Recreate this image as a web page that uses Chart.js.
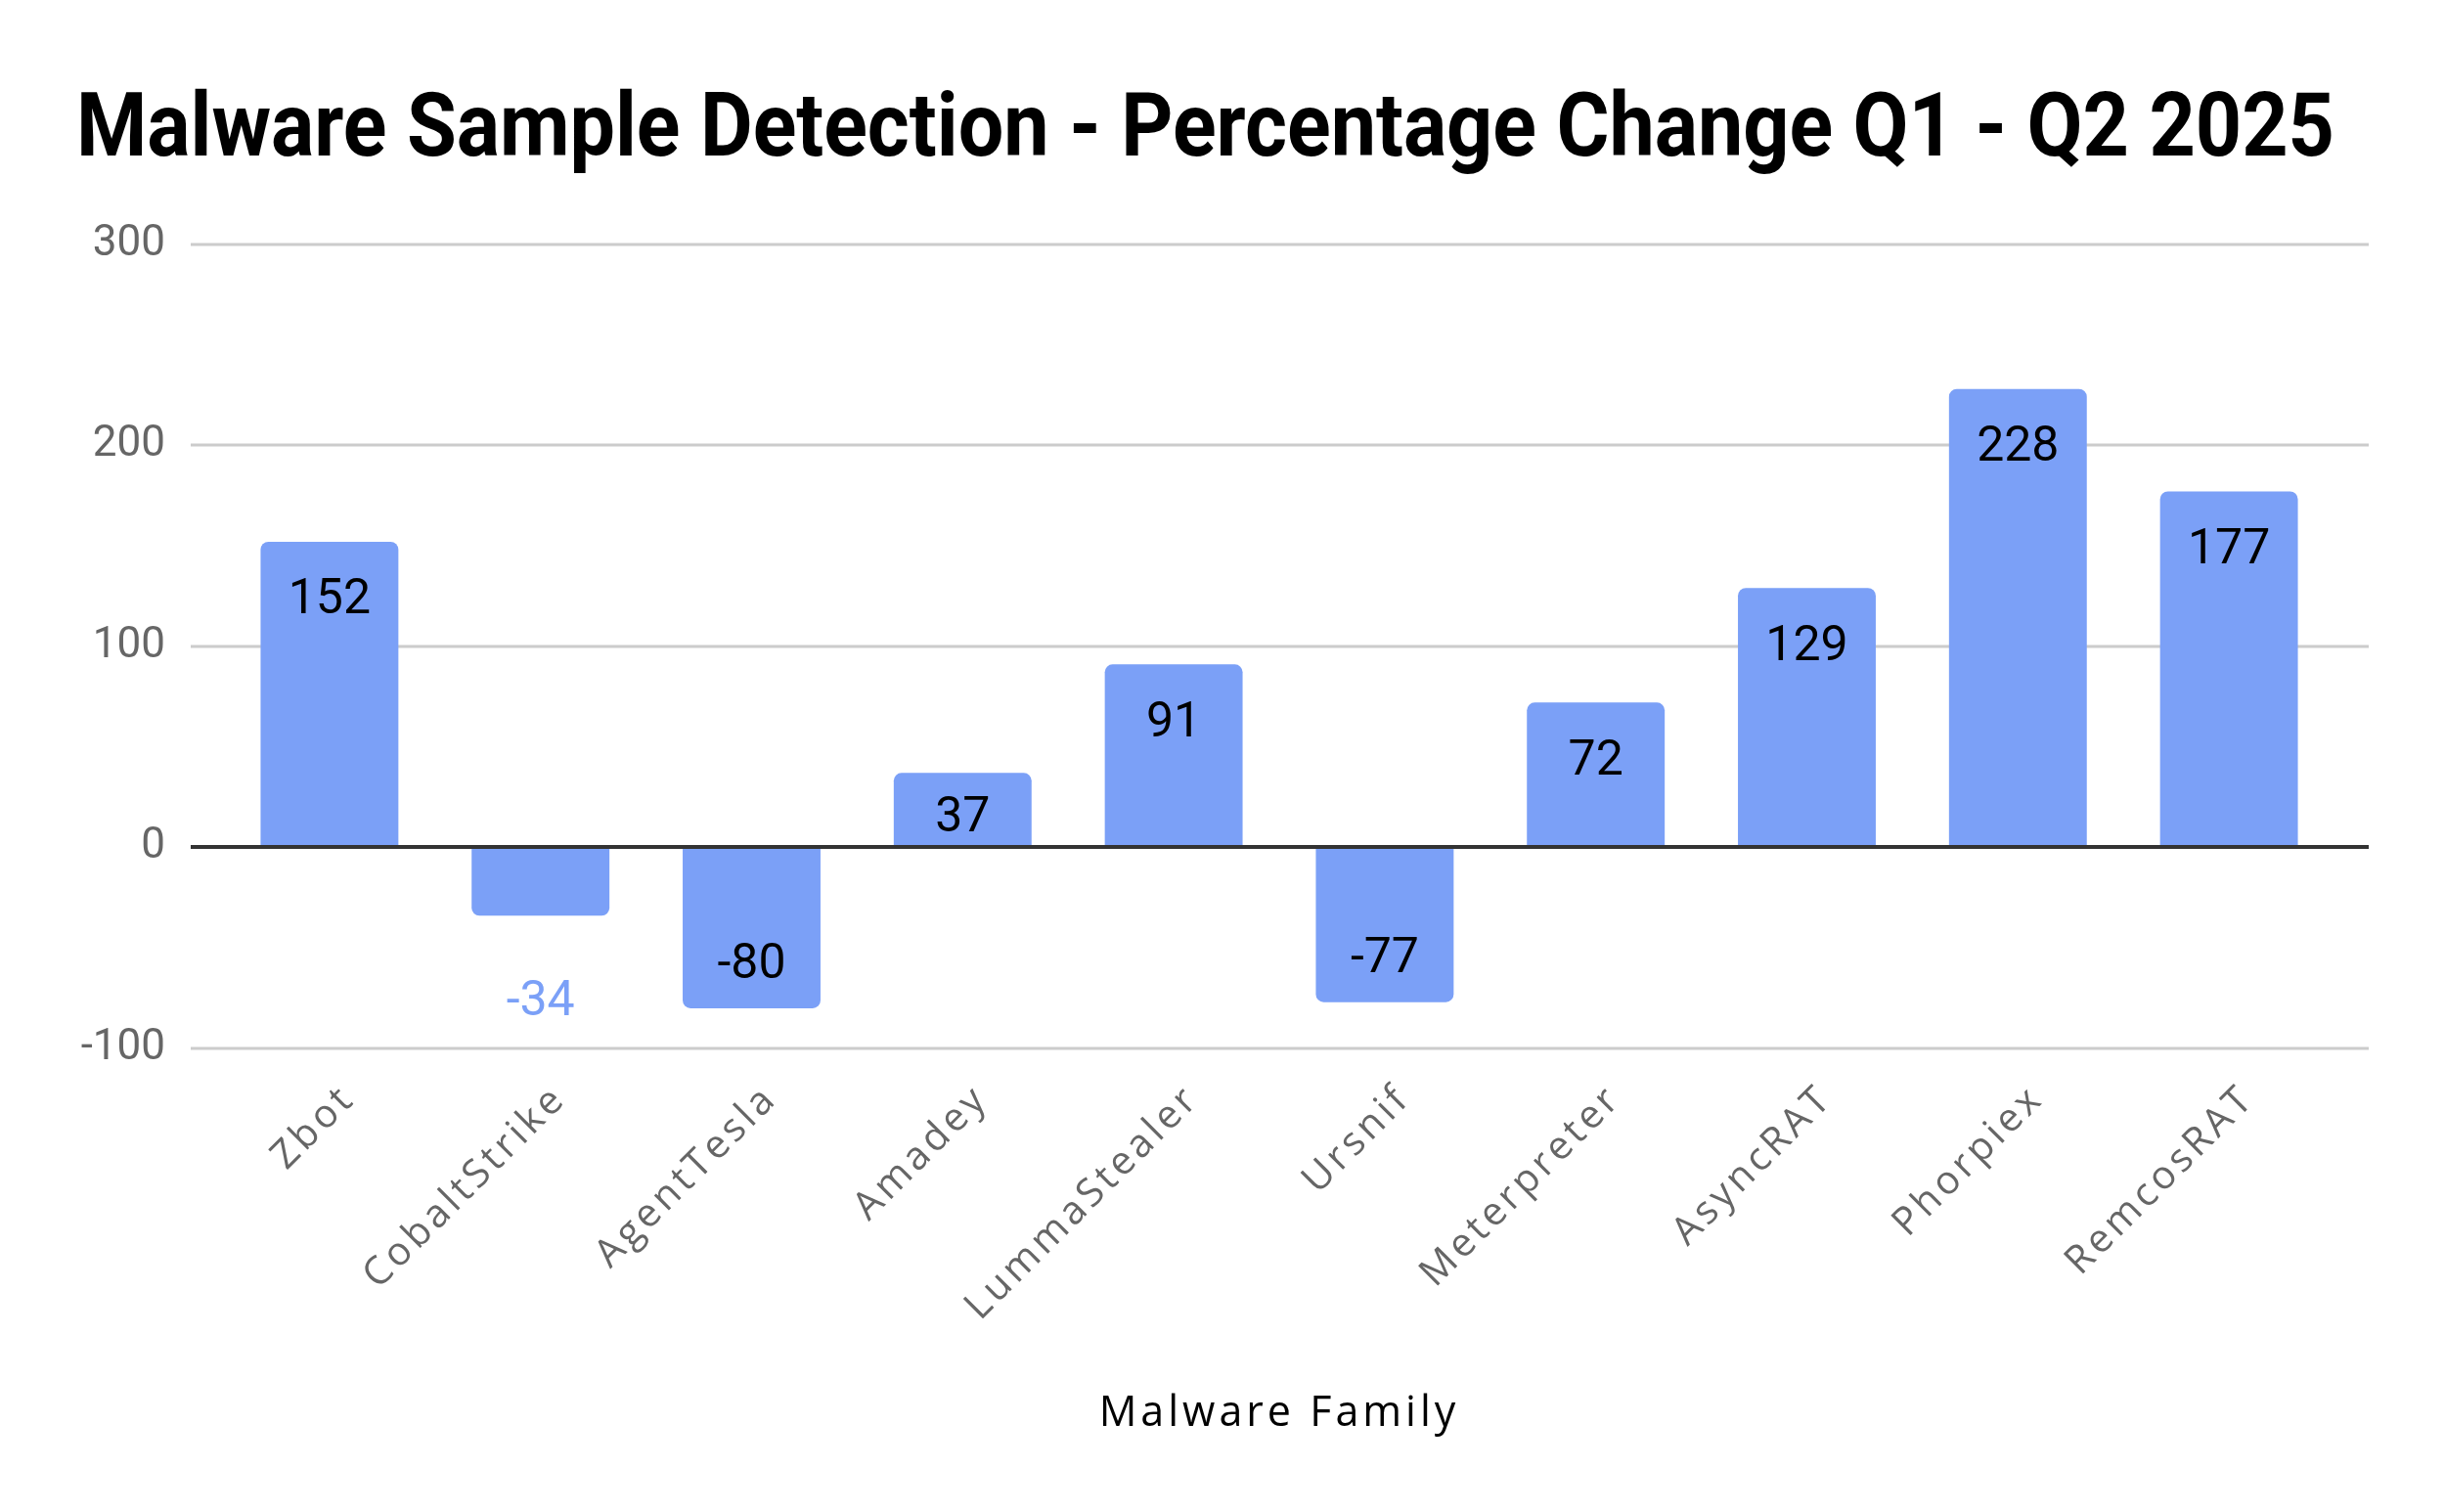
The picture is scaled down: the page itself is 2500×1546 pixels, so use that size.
<!DOCTYPE html>
<html>
<head>
<meta charset="utf-8">
<script src="https://cdn.jsdelivr.net/npm/chart.js@4.4.1/dist/chart.umd.min.js"></script>
<style>
  html, body { margin: 0; padding: 0; background: #fff; }
</style>
</head>
<body>
<canvas id="grafMalware" width="2500" height="1546"></canvas>
<script>
// Datos
const familias = ['Zbot', 'CobaltStrike', 'AgentTesla', 'Amadey', 'LummaStealer',
                  'Ursnif', 'Meterpreter', 'AsyncRAT', 'Phorpiex', 'RemcosRAT'];
const cambioPct = [152, -34, -80, 37, 91, -77, 72, 129, 228, 177];
const ejeY = [-100, 0, 100, 200, 300];

const colorBarra = '#7ba0f7';

// rejilla horizontal algo mas ancha que el area de barras, linea del cero,
// etiquetas de valor; el eje x (z: 1) se dibuja despues con letras espaciadas
const extras = {
  id: 'extras',
  beforeDatasetsDraw(chart) {
    const { ctx, chartArea, scales: { y } } = chart;
    ctx.save();
    y.ticks.forEach(t => {
      if (t.value === 0) return;
      const py = Math.round(y.getPixelForValue(t.value));
      ctx.strokeStyle = '#cccccc';
      ctx.lineWidth = 3;
      ctx.beginPath();
      ctx.moveTo(chartArea.left - 34, py);
      ctx.lineTo(chartArea.right + 35, py);
      ctx.stroke();
    });
    ctx.restore();
  },
  afterDatasetsDraw(chart) {
    const { ctx, chartArea, scales: { y } } = chart;
    ctx.save();
    ctx.letterSpacing = '0px';
    const p0 = Math.round(y.getPixelForValue(0));
    ctx.strokeStyle = '#333333';
    ctx.lineWidth = 4;
    ctx.beginPath();
    ctx.moveTo(chartArea.left - 34, p0);
    ctx.lineTo(chartArea.right + 35, p0);
    ctx.stroke();

    // dentro de la barra si cabe, si no por fuera en el color de la barra
    ctx.font = '50px Roboto';
    ctx.textAlign = 'center';
    ctx.textBaseline = 'middle';
    chart.getDatasetMeta(0).data.forEach((bar, i) => {
      const v = cambioPct[i];
      const largo = Math.abs(bar.base - bar.y);
      const dir = v >= 0 ? 1 : -1;
      let py, color;
      if (largo >= 72) {
        py = bar.y + dir * Math.min(52, largo / 2);
        color = '#000000';
      } else {
        py = bar.y - dir * 80;
        color = colorBarra;
      }
      ctx.fillStyle = color;
      ctx.fillText(String(v), bar.x, py + 9);
    });
    ctx.restore();
    ctx.letterSpacing = '4px';
  },
  afterDraw(chart) {
    chart.ctx.letterSpacing = '0px';
  }
};

new Chart(document.getElementById('grafMalware'), {
  type: 'bar',
  data: {
    labels: familias,
    datasets: [{
      data: cambioPct,
      backgroundColor: colorBarra,
      borderRadius: 8,
      borderSkipped: 'start',
      categoryPercentage: 1,
      barPercentage: 0.653
    }]
  },
  options: {
    responsive: false,
    animation: false,
    devicePixelRatio: 1,
    layout: { padding: { left: 78, right: 113, top: 0, bottom: 0 } },
    plugins: {
      legend: { display: false },
      tooltip: { enabled: false },
      title: {
        display: true,
        text: 'Malware Sample Detection - Percentage Change Q1 - Q2 2025',
        align: 'start',
        color: '#000000',
        font: { family: 'Roboto', weight: 'bold', size: 90.5 },
        padding: { top: 82, bottom: 59 }
      }
    },
    scales: {
      x: {
        grid: { display: false, z: 1 },
        border: { display: false },
        ticks: {
          z: 1,
          color: '#666666',
          font: { family: 'Open Sans', size: 40 },
          minRotation: 45,
          maxRotation: 45,
          autoSkip: false,
          padding: 20,
          labelOffset: 20
        },
        title: {
          display: true,
          text: 'Malware Family',
          color: '#000000',
          font: { family: 'Open Sans', size: 43 },
          padding: { top: 0, bottom: 74 }
        },
        afterFit(s) { s.height = 474; }
      },
      y: {
        min: ejeY[0],
        max: ejeY[ejeY.length - 1],
        grid: { display: false },
        border: { display: false },
        ticks: {
          stepSize: 100,
          color: '#666666',
          font: { family: 'Roboto', size: 44 },
          padding: 52
        },
        afterFit(s) { s.width = 151; }
      }
    }
  },
  plugins: [extras]
});
</script>
</body>
</html>
